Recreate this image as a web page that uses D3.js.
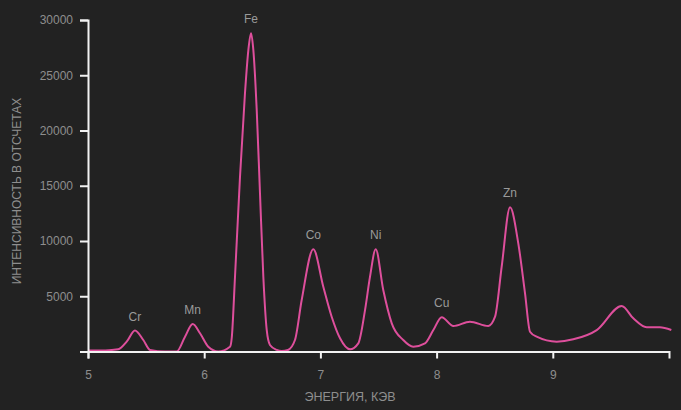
<!DOCTYPE html>
<html>
<head>
<meta charset="utf-8">
<script src="https://cdn.jsdelivr.net/npm/d3@7"></script>
<style>
  html, body { margin: 0; padding: 0; background: #222222; }
  svg { display: block; font-family: "Liberation Sans", Arial, sans-serif; }
</style>
</head>
<body>
<svg id="chart" width="681" height="410"></svg>
<script>
// ---- data ----
const energies = [5.00, 5.15, 5.26, 5.333, 5.404, 5.476, 5.534, 5.663, 5.763, 5.835, 5.901, 5.964, 6.035, 6.121, 6.222,
  6.237, 6.265, 6.308, 6.351, 6.380, 6.403, 6.423, 6.452, 6.480, 6.509, 6.538, 6.566, 6.624, 6.667, 6.721,
  6.781, 6.839, 6.939, 7.025, 7.097, 7.169, 7.255, 7.326,
  7.384, 7.427, 7.476, 7.541, 7.614, 7.713, 7.799, 7.900, 7.972, 8.044, 8.144, 8.287, 8.445, 8.503,
  8.560, 8.632, 8.703, 8.761, 8.804, 8.861, 9.034, 9.176, 9.378, 9.593, 9.693, 9.808, 9.921, 10.02];
const counts = [100, 100, 200, 890, 1900, 1040, 140, 0, 0, 1340, 2490, 1650, 430, 0, 430,
  1220, 6740, 15790, 23390, 27280, 28800, 27280, 21850, 14340, 6740, 1950, 590, 140, 40, 140,
  1040, 4660, 9250, 5860, 3150, 1200, 200, 740,
  3750, 6770, 9250, 5560, 2550, 1040, 440, 740, 1940, 3100, 2310, 2700, 2310, 3150,
  7670, 13050, 9790, 5260, 1790, 1340, 890, 1100, 1940, 4120, 3000, 2190, 2190, 1940];
const peakNames = ["Cr", "Mn", "Fe", "Co", "Ni", "Cu", "Zn"];
const peakEnergies = [5.404, 5.901, 6.403, 6.939, 7.476, 8.044, 8.632];
const xTicks = [5, 6, 7, 8, 9];
const yTicks = [5000, 10000, 15000, 20000, 25000, 30000];
const xTitle = "ЭНЕРГИЯ, КЭВ";
const yTitle = "ИНТЕНСИВНОСТЬ В ОТСЧЕТАХ";

// ---- chart ----
const svg = d3.select("#chart");
const x = d3.scaleLinear().domain([5, 10]).range([88, 669]);
const y = d3.scaleLinear().domain([0, 30000]).range([351.5, 20]);

const data = energies.map((e, i) => ({ e, c: counts[i] }));

const axisColor = "#f2f2f2";
const textColor = "#8e8e8e";

// line
const line = d3.line().x(d => x(d.e)).y(d => y(d.c)).curve(d3.curveMonotoneX);
svg.append("path")
  .datum(data)
  .attr("fill", "none")
  .attr("stroke", "#de4f9c")
  .attr("stroke-width", 2)
  .attr("stroke-linejoin", "round")
  .attr("d", line);

// axes
const gx = svg.append("g").attr("transform", `translate(0,${y(0)})`)
  .call(d3.axisBottom(x).tickValues(xTicks).tickFormat(d3.format("d")).tickSize(7).tickSizeOuter(7).tickPadding(12));
const gy = svg.append("g").attr("transform", `translate(${x(5)},0)`)
  .call(d3.axisLeft(y).tickValues(yTicks).tickFormat(d3.format("d")).tickSize(8).tickSizeOuter(8).tickPadding(7));

[gx, gy].forEach(g => {
  g.select(".domain").attr("stroke", axisColor).attr("stroke-width", 2);
  g.selectAll(".tick line").attr("stroke", axisColor).attr("stroke-width", 2);
  g.selectAll(".tick text").attr("fill", textColor).attr("font-size", 12)
    .attr("font-family", "Liberation Sans, Arial, sans-serif");
});

// peak labels
peakNames.forEach((name, i) => {
  const pe = peakEnergies[i];
  const idx = energies.indexOf(pe);
  const c = counts[idx];
  svg.append("text")
    .attr("x", x(pe))
    .attr("y", y(c) - 10)
    .attr("text-anchor", "middle")
    .attr("fill", "#9a9a9a")
    .attr("font-size", 12)
    .text(name);
});

// axis titles
svg.append("text")
  .attr("x", 350)
  .attr("y", 401)
  .attr("text-anchor", "middle")
  .attr("fill", textColor)
  .attr("font-size", 12.5)
  .text(xTitle);

svg.append("text")
  .attr("transform", `translate(21,${191}) rotate(-90)`)
  .attr("text-anchor", "middle")
  .attr("fill", textColor)
  .attr("font-size", 12)
  .text(yTitle);
</script>
</body>
</html>
